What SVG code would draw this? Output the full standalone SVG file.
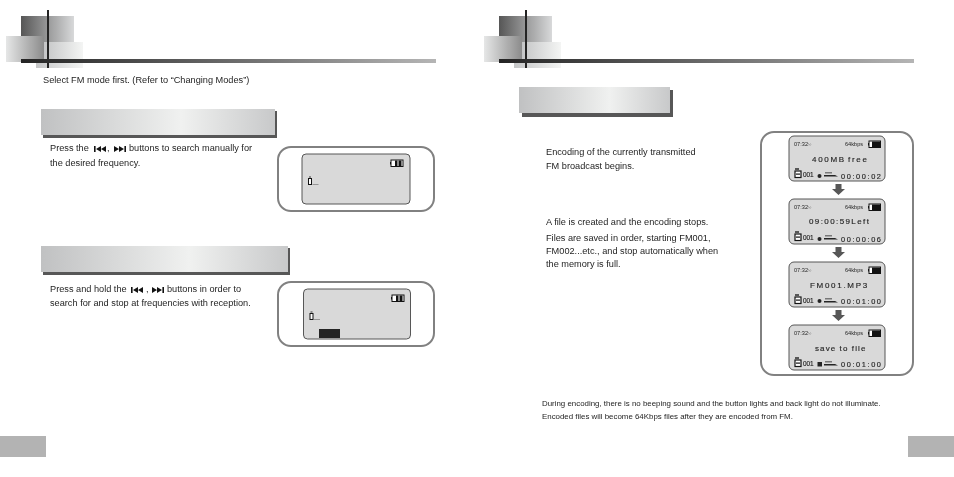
<svg xmlns="http://www.w3.org/2000/svg" xmlns:xlink="http://www.w3.org/1999/xlink" width="954" height="477" viewBox="0 0 954 477">
<style>
text{font-family:"Liberation Sans",Arial,sans-serif;font-size:9.2px;fill:#222}
.small{font-size:7.9px}
.lcd{fill:#d9d9d9;stroke:#555;stroke-width:1}
.frame{fill:#fff;stroke:#808080;stroke-width:2}
.t{font-size:5.6px;fill:#222}
.m{font-size:8px;fill:#222;letter-spacing:1.7px;stroke:#222;stroke-width:.15}
.c{font-size:7.4px;fill:#222;letter-spacing:1.6px;stroke:#222;stroke-width:.15}
.n{font-size:6.4px;fill:#222;stroke:#222;stroke-width:.15}
.ico{fill:#111}
</style>
<defs>
<linearGradient id="dk"><stop offset="0" stop-color="#555"/><stop offset="1" stop-color="#d8d9da"/></linearGradient>
<linearGradient id="lf"><stop offset="0" stop-color="#e6e7e7"/><stop offset="1" stop-color="#8a8a8a"/></linearGradient>
<linearGradient id="rt"><stop offset="0" stop-color="#c4c5c6"/><stop offset="1" stop-color="#f4f5f4"/></linearGradient>
<linearGradient id="bar"><stop offset="0" stop-color="#222"/><stop offset="0.6" stop-color="#777"/><stop offset="1" stop-color="#b5b5b5"/></linearGradient>
<linearGradient id="ban"><stop offset="0" stop-color="#c0c1c2"/><stop offset="0.6" stop-color="#f0f1f0"/><stop offset="1" stop-color="#c8c9ca"/></linearGradient>
<g id="head">
<rect x="21" y="16" width="53" height="46" fill="url(#dk)"/>
<rect x="6" y="36" width="38" height="26" fill="url(#lf)"/>
<rect x="44" y="42" width="39" height="20" fill="url(#rt)"/>
<rect x="36" y="62" width="47" height="6" fill="url(#rt)"/>
<rect x="47" y="10" width="2" height="58" fill="#222"/>
<rect x="21" y="59" width="415" height="4" fill="url(#bar)"/>
</g>
<g id="bat"><rect x="1" y="0" width="11.500" height="6.500" fill="#fff" stroke="#111" stroke-width="1"/><rect x="0" y="2" width="1" height="2.500" fill="#111"/><rect x="4" y="0.500" width="8" height="5.500" fill="#111"/></g>
<g id="bat2"><rect x="1" y="0" width="12" height="6.500" fill="#fff" stroke="#111" stroke-width="1"/><rect x="0" y="2" width="1" height="2.500" fill="#111"/><rect x="5" y="0.500" width="6.500" height="5.500" fill="#111"/><rect x="7.500" y="0.500" width="1" height="5.500" fill="#fff"/></g>
<g id="ant"><rect x="0" y="1.500" width="3" height="6" fill="#fff" stroke="#111" stroke-width="1"/><rect x="0.500" y="-1" width="2" height="2" fill="#888"/><rect x="4" y="7" width="6" height="0.700" fill="#777"/></g>
<g id="fb"><rect x="0" y="0" width="6" height="6.500" fill="#fff" stroke="#111" stroke-width="1.200"/><rect x="1" y="2.500" width="4" height="1.200" fill="#111"/><rect x="0" y="-3" width="4" height="2" fill="#555"/></g>
<polygon id="arr" points="-3,0 3,0 3,5 6.500,5 0,11 -6.500,5 -3,5" fill="#555"/>
<g id="prev"><rect x="0" y="0" width="1.600" height="6" class="ico"/><path d="M7 0V6L2 3zM12 0V6L7 3z" class="ico"/></g>
<g id="next"><rect x="10.400" y="0" width="1.600" height="6" class="ico"/><path d="M0 0V6L5 3zM5 0V6L10 3z" class="ico"/></g>
<g id="hold"><rect x="1" y="0" width="7" height="1.500" fill="#777"/><path d="M0 3H11L14 4.500H0z" fill="#222"/></g>
<g id="screen">
<rect class="lcd" x="0" y="0" width="96" height="45" rx="5"/>
<text class="t" x="5" y="10">07:32</text><text class="t" x="19" y="10" style="font-size:4px">½</text>
<text class="t" x="56" y="10">64kbps</text>
<use xlink:href="#bat" x="79" y="5"/>
<use xlink:href="#fb" x="6" y="35"/>
<text class="n" x="14" y="41">001</text>
<use xlink:href="#hold" x="35" y="36"/>
</g>
</defs>
<g id="page" style="opacity:.99">
<g id="header-left"><use xlink:href="#head"/></g>
<g id="header-right"><use xlink:href="#head" x="478"/></g>
<text x="43" y="83">Select FM mode first. (Refer to “Changing Modes”)</text>

<g id="banner-manual"><rect x="43" y="111" width="234" height="27" fill="#555"/><rect x="41" y="109" width="234" height="26" fill="url(#ban)"/></g>
<g id="text-manual">
<text x="50" y="151">Press the</text>
<use xlink:href="#prev" x="94" y="146"/><text x="107" y="151">,</text><use xlink:href="#next" x="114" y="146"/>
<text x="129" y="151">buttons to search manually for</text>
<text x="50" y="166">the desired frequency.</text>
</g>
<g id="display-manual">
<rect class="frame" x="278" y="147" width="156" height="64" rx="13"/>
<rect class="lcd" x="302" y="154" width="108" height="50" rx="4"/>
<use xlink:href="#bat2" x="390" y="160"/>
<use xlink:href="#ant" x="308.500" y="177"/>
</g>

<g id="banner-auto"><rect x="43" y="248" width="247" height="27" fill="#555"/><rect x="41" y="246" width="247" height="26" fill="url(#ban)"/></g>
<g id="text-auto">
<text x="50" y="292">Press and hold the</text>
<use xlink:href="#prev" x="131" y="287"/><text x="146" y="292">,</text><use xlink:href="#next" x="152" y="287"/>
<text x="167" y="292">buttons in order to</text>
<text x="50" y="306">search for and stop at frequencies with reception.</text>
</g>
<g id="display-auto">
<rect class="frame" x="278" y="282" width="156" height="64" rx="13"/>
<rect class="lcd" x="303.500" y="289" width="107" height="50" rx="4"/>
<use xlink:href="#bat2" x="391" y="295"/>
<use xlink:href="#ant" x="310" y="312"/>
<rect x="319" y="329" width="21" height="9" fill="#222"/>
</g>

<g id="banner-record"><rect x="522" y="90" width="151" height="27" fill="#555"/><rect x="519" y="87" width="151" height="26" fill="url(#ban)"/></g>
<g id="text-record">
<text x="546" y="155">Encoding of the currently transmitted</text>
<text x="546" y="169">FM broadcast begins.</text>
<text x="546" y="225">A file is created and the encoding stops.</text>
<text x="546" y="241">Files are saved in order, starting FM001,</text>
<text x="546" y="254">FM002...etc., and stop automatically when</text>
<text x="546" y="267">the memory is full.</text>
</g>

<g id="record-frame"><rect class="frame" x="761" y="132" width="152" height="243" rx="13"/></g>
<g id="screen-1"><use xlink:href="#screen" x="789" y="136"/>
<text class="m" x="812" y="162">400MB</text><text class="m" x="848" y="162">free</text>
<circle cx="819.500" cy="176" r="2" fill="#222"/><text class="c" x="841" y="179">00:00:02</text></g>
<g id="screen-2"><use xlink:href="#screen" x="789" y="199"/>
<text class="m" x="809" y="224" style="letter-spacing:1.4px">09:00:59Left</text>
<circle cx="819.500" cy="239" r="2" fill="#222"/><text class="c" x="841" y="242">00:00:06</text></g>
<g id="screen-3"><use xlink:href="#screen" x="789" y="262"/>
<text class="m" x="810" y="288">FM001.MP3</text>
<circle cx="819.500" cy="301" r="2" fill="#222"/><text class="c" x="841" y="304">00:01:00</text></g>
<g id="screen-4"><use xlink:href="#screen" x="789" y="325"/>
<text class="m" x="815" y="351" style="letter-spacing:1.1px">save to file</text>
<rect x="817.500" y="362" width="4.500" height="4.500" fill="#222"/><text class="c" x="841" y="367">00:01:00</text></g>
<g id="connectors">
<use xlink:href="#arr" x="838.500" y="184"/>
<use xlink:href="#arr" x="838.500" y="247"/>
<use xlink:href="#arr" x="838.500" y="310"/>
</g>

<g id="notes">
<text class="small" x="542" y="406">During encoding, there is no beeping sound and the button lights and back light do not illuminate.</text>
<text class="small" x="542" y="419">Encoded files will become 64Kbps files after they are encoded from FM.</text>
</g>
<g id="page-tabs"><rect x="0" y="436" width="46" height="21" fill="#b3b3b3"/><rect x="908" y="436" width="46" height="21" fill="#b3b3b3"/></g>
</g>
</svg>
